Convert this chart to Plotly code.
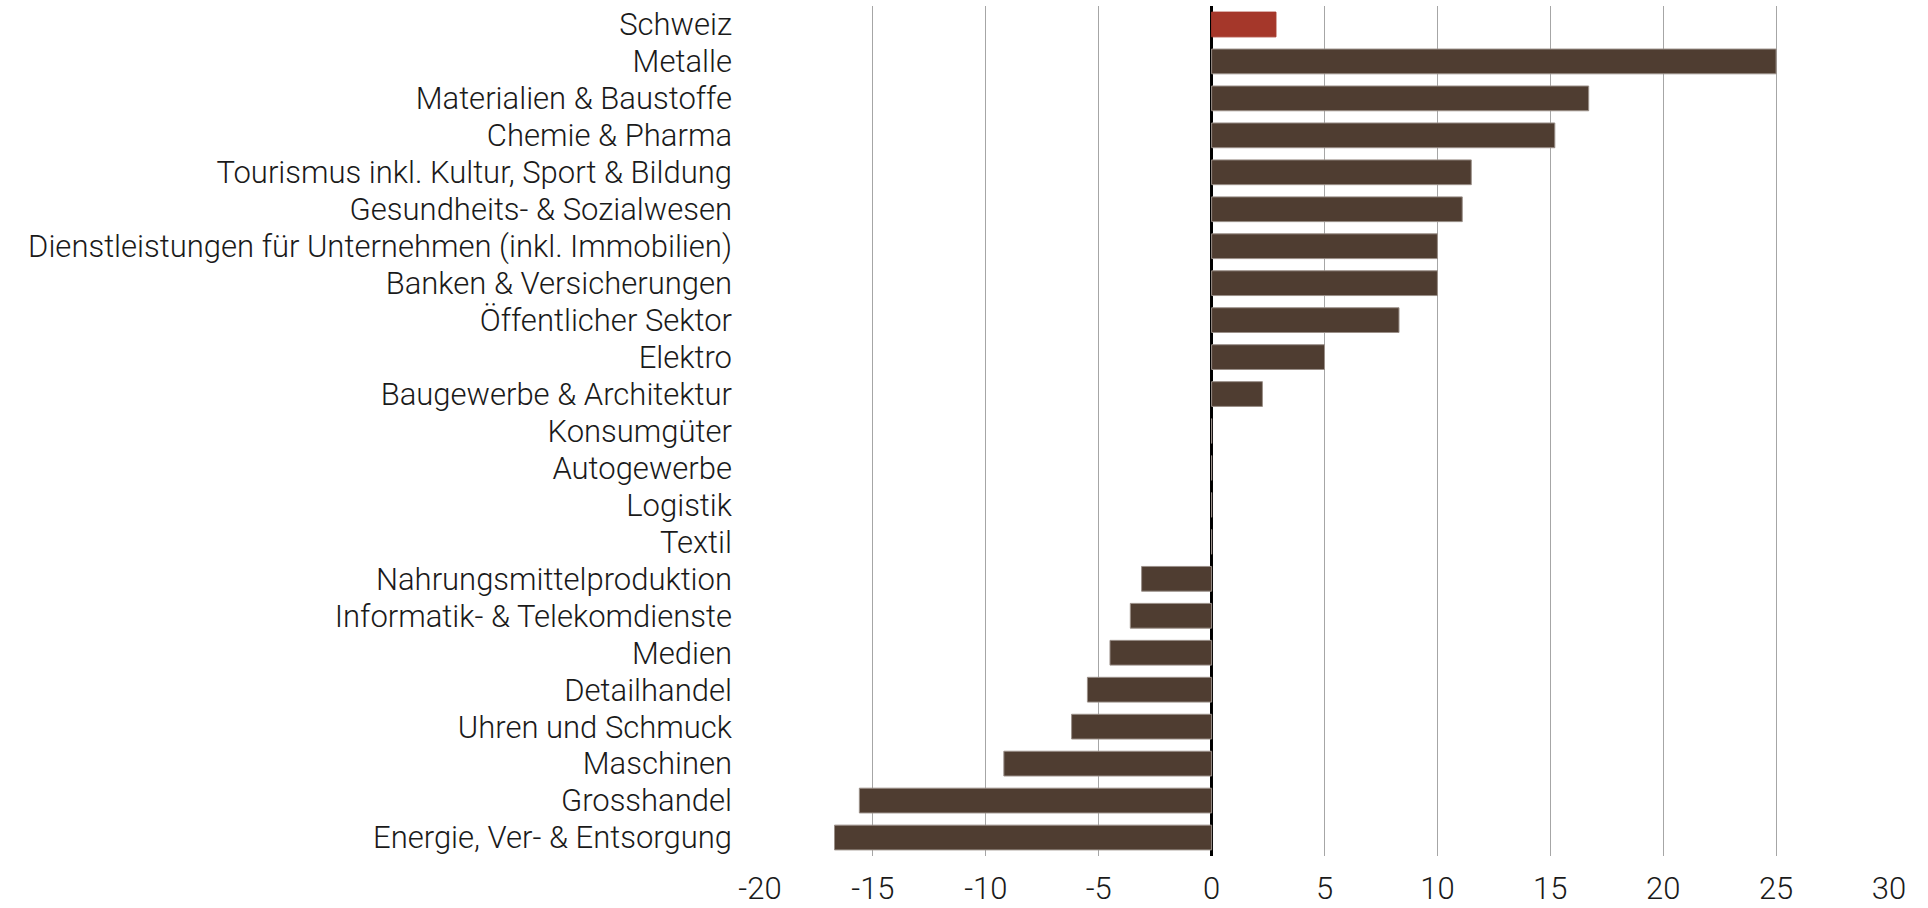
import plotly.graph_objects as go

categories = [
    "Schweiz", "Metalle", "Materialien & Baustoffe", "Chemie & Pharma",
    "Tourismus inkl. Kultur, Sport & Bildung", "Gesundheits- & Sozialwesen",
    "Dienstleistungen für Unternehmen (inkl. Immobilien)", "Banken & Versicherungen",
    "Öffentlicher Sektor", "Elektro", "Baugewerbe & Architektur", "Konsumgüter",
    "Autogewerbe", "Logistik", "Textil", "Nahrungsmittelproduktion",
    "Informatik- & Telekomdienste", "Medien", "Detailhandel", "Uhren und Schmuck",
    "Maschinen", "Grosshandel", "Energie, Ver- & Entsorgung",
]
values = [2.85, 25.0, 16.7, 15.2, 11.5, 11.1, 10.0, 10.0, 8.3, 5.0, 2.25, 0, 0, 0, 0,
          -3.1, -3.6, -4.5, -5.5, -6.2, -9.2, -15.6, -16.7]
highlight = "Schweiz"
x_ticks = [-20, -15, -10, -5, 0, 5, 10, 15, 20, 25, 30]

colors = ["#A5372A" if c == highlight else "#4F3D31" for c in categories]
line_colors = ["#A5372A" if c == highlight else "#9A8F88" for c in categories]

fig = go.Figure(go.Bar(
    x=values, y=categories, orientation="h",
    marker=dict(color=colors, line=dict(color=line_colors, width=1)),
    width=0.67,
))

font_family = "Roboto"
fsize = 31
fig.update_layout(
    width=1928, height=908,
    margin=dict(l=760, r=39, t=6, b=52),
    plot_bgcolor="white", paper_bgcolor="white",
    showlegend=False,
    font=dict(family=font_family, size=fsize, color="#1a1a1a", weight=300),
    xaxis=dict(
        range=[-20, 30], tickvals=x_ticks, ticktext=[str(v) for v in x_ticks],
        showgrid=True, gridcolor="#A6A6A6", gridwidth=1,
        zeroline=True, zerolinecolor="black", zerolinewidth=3,
        showline=False, ticks="", ticklabelstandoff=11, automargin=False,
        tickfont=dict(size=fsize, family=font_family, weight=300),
    ),
    yaxis=dict(
        categoryorder="array", categoryarray=categories, autorange="reversed",
        tickmode="array", tickvals=categories, ticktext=categories,
        showgrid=False, zeroline=False, showline=False, ticks="",
        ticklabelstandoff=27, automargin=False,
        tickfont=dict(size=fsize, family=font_family, weight=300),
    ),
)

fig.write_html("out.html", config={"displayModeBar": False},
               post_script="document.body.style.margin='0';")
